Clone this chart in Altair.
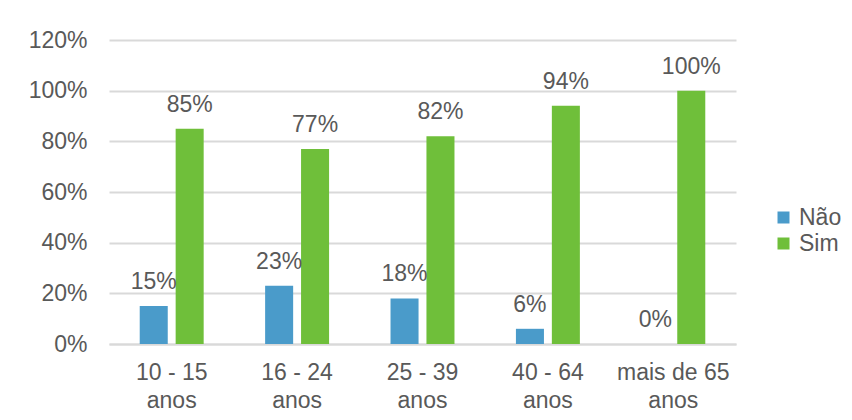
import altair as alt
import pandas as pd

categories = ["10 - 15 anos", "16  - 24 anos", "25 - 39 anos", "40 - 64 anos", "mais de 65 anos"]
series = ["Não", "Sim"]
nao = [0.15, 0.23, 0.18, 0.06, 0.0]
sim = [0.85, 0.77, 0.82, 0.94, 1.00]
colors = ["#4a9bca", "#6fbf3a"]
y_ticks = [0, 0.2, 0.4, 0.6, 0.8, 1.0, 1.2]

rows = []
for c, n, s in zip(categories, nao, sim):
    rows.append({"cat": c, "serie": "Não", "v": n})
    rows.append({"cat": c, "serie": "Sim", "v": s})
df = pd.DataFrame(rows)

FONT = "Liberation Sans"
TXT = "#595959"
GRID = "#d9d9d9"

x_enc = alt.X(
    "cat:N", sort=categories, title=None,
    scale=alt.Scale(paddingInner=0.49, paddingOuter=0.245),
    axis=alt.Axis(
        labelAngle=0, labelFontSize=23, labelColor=TXT, labelFont=FONT,
        labelExpr="split(replace(datum.label, ' anos', '|anos'), '|')",
        labelLineHeight=28, labelPadding=17, ticks=False,
        domainColor=GRID, domainWidth=2,
    ),
)
xo_enc = alt.XOffset("serie:N", sort=series, scale=alt.Scale(paddingInner=0.22, paddingOuter=0))
y_enc = alt.Y(
    "v:Q", title=None,
    scale=alt.Scale(domain=[0, 1.2], nice=False),
    axis=alt.Axis(
        values=y_ticks, format=".0%", labelFontSize=23, labelColor=TXT, labelFont=FONT,
        labelPadding=22, ticks=False, domain=False, gridColor=GRID, gridWidth=2,
    ),
)

bars = alt.Chart(df).mark_bar().encode(
    x=x_enc, xOffset=xo_enc, y=y_enc,
    color=alt.Color(
        "serie:N", sort=series, scale=alt.Scale(domain=series, range=colors),
        legend=alt.Legend(
            title=None, orient="none", legendX=663, legendY=166,
            symbolType="square", symbolSize=144, symbolStrokeWidth=0,
            labelFontSize=23, labelColor=TXT, labelFont=FONT,
            labelOffset=4, rowPadding=2, padding=0,
        ),
    ),
)

labels = alt.Chart(df).mark_text(
    dy=-17, baseline="alphabetic", fontSize=23, color=TXT, font=FONT
).encode(
    x=x_enc, xOffset=xo_enc, y=y_enc,
    text=alt.Text("v:Q", format=".0%"),
)

chart = (bars + labels).properties(
    width=627, height=304,
    autosize=alt.AutoSizeParams(type="none"),
    padding={"left": 101, "top": 32, "right": 108, "bottom": 68},
    background="white",
).configure_view(stroke=None)

chart.save("out.html", embed_options={"renderer": "svg", "actions": False})
